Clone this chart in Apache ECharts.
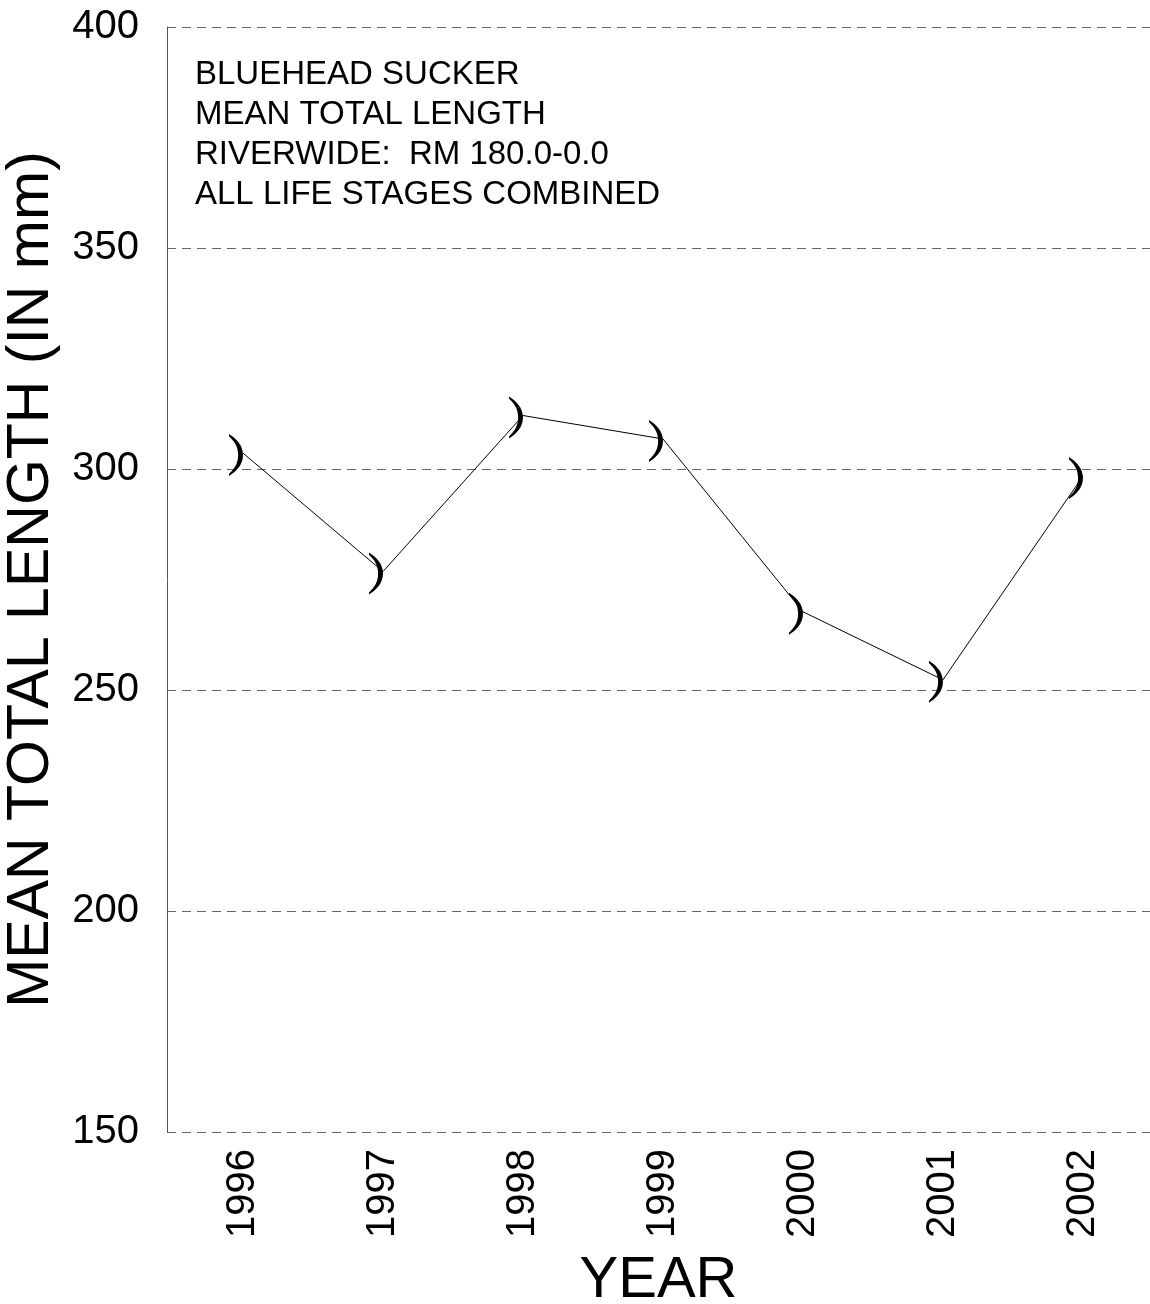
<!DOCTYPE html>
<html>
<head>
<meta charset="utf-8">
<script src="https://cdn.jsdelivr.net/npm/echarts@6/dist/echarts.min.js"></script>
<style>
html,body{margin:0;padding:0;background:#fff;}
#chart{width:1150px;height:1304px;}
</style>
</head>
<body>
<div id="chart"></div>
<script>
var years = [1996, 1997, 1998, 1999, 2000, 2001, 2002];
var meanLength = [303.6, 276.8, 312.1, 306.8, 267.7, 252.3, 298.4];
var yTicks = [150, 200, 250, 300, 350, 400];
var titleLines = ['BLUEHEAD SUCKER', 'MEAN TOTAL LENGTH', 'RIVERWIDE:  RM 180.0-0.0', 'ALL LIFE STAGES COMBINED'];

var FONT = '"Liberation Sans", Arial, Helvetica, sans-serif';
var chart = echarts.init(document.getElementById('chart'), null, {renderer: 'canvas'});

var seriesData = years.map(function (y, i) { return [y, meanLength[i]]; });

var option = {
  backgroundColor: '#ffffff',
  animation: false,
  title: {
    text: titleLines.join('\n'),
    left: 190,
    top: 50,
    textStyle: {fontFamily: FONT, fontSize: 33, fontWeight: 'normal', color: '#000', lineHeight: 40}
  },
  grid: {left: 167, right: 0, top: 27, bottom: 172, containLabel: false, outerBoundsMode: 'none'},
  xAxis: {
    type: 'value',
    min: 1995.457,
    max: 2002.479,
    name: 'YEAR',
    nameLocation: 'middle',
    nameGap: 120,
    nameTextStyle: {fontFamily: FONT, fontSize: 58, color: '#000'},
    axisLine: {show: false},
    axisTick: {show: false},
    splitLine: {show: false},
    axisLabel: {
      customValues: years,
      rotate: 90,
      margin: 17,
      fontFamily: FONT,
      fontSize: 40,
      color: '#000',
      formatter: function (v) { return String(Math.round(v)); }
    }
  },
  yAxis: {
    type: 'value',
    min: yTicks[0],
    max: yTicks[yTicks.length - 1],
    interval: 50,
    name: 'MEAN TOTAL LENGTH (IN mm)',
    nameLocation: 'middle',
    nameGap: 100,
    nameTextStyle: {fontFamily: FONT, fontSize: 59, color: '#000'},
    axisLine: {show: true, lineStyle: {color: '#555', width: 1}},
    axisTick: {show: false},
    axisLabel: {margin: 28, fontFamily: FONT, fontSize: 40, color: '#000'},
    splitLine: {show: true, lineStyle: {color: '#666', width: 1, type: [9, 6]}}
  },
  series: [{
    type: 'line',
    data: seriesData,
    lineStyle: {color: '#000', width: 1},
    itemStyle: {color: '#000'},
    symbol: 'path://M0,0 C6,4 13,10 13,20 C13,30 6,36 0,40 L0,38 C4,34 8.5,29 8.5,20 C8.5,11 4,6 0,2 Z',
    symbolSize: [14, 42],
    symbolOffset: [-7, 2],
    symbolKeepAspect: false,
    showSymbol: true
  }]
};
chart.setOption(option);
</script>
</body>
</html>
